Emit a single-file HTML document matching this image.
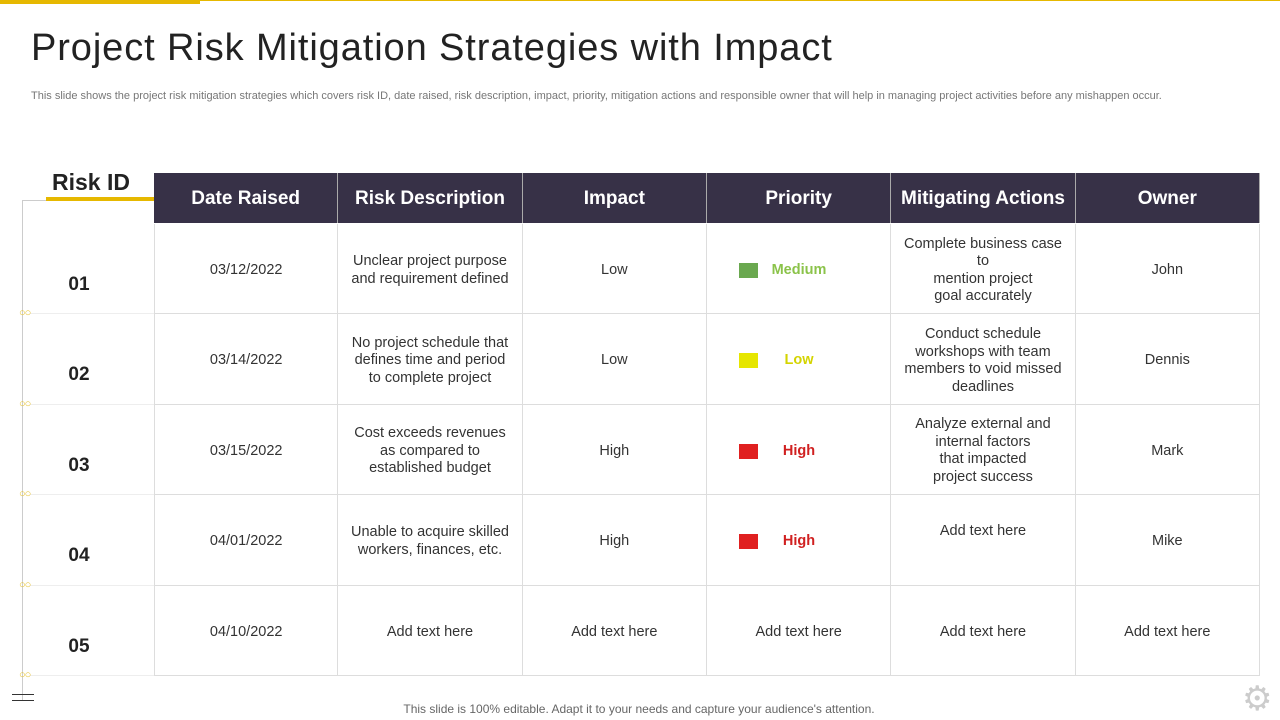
<!DOCTYPE html>
<html><head><meta charset="utf-8"><style>
body{margin:0;width:1280px;height:720px;position:relative;background:#fff;font-family:"Liberation Sans",sans-serif;overflow:hidden}
.a{position:absolute}
.hd{position:absolute;top:173px;height:50px;background:#373147;color:#fff;font-weight:bold;font-size:19px;display:flex;align-items:center;justify-content:center;border-right:1px solid #aaa;box-sizing:border-box;padding-top:2px}
.cell{position:absolute;height:90px;display:flex;align-items:center;justify-content:center;text-align:center;font-size:14.5px;color:#333;line-height:17.5px;border-right:1px solid #ddd;border-bottom:1px solid #ddd;box-sizing:border-box;padding-top:4px}
.rid{position:absolute;left:49px;width:60px;text-align:center;font-weight:bold;font-size:19px;color:#222}
.dots{position:absolute;left:19px;font-size:11px;color:#e6c230;letter-spacing:-1px;line-height:11px}
.sq{position:absolute;left:32px;top:39px;width:19px;height:15px}
.pr{position:absolute;left:57px;width:70px;top:38px;text-align:center;font-weight:bold}
</style></head><body>
<div class="a" style="left:0;top:0;width:200px;height:4px;background:#e6b800"></div>
<div class="a" style="left:200px;top:0;width:1080px;height:1px;background:#e6b800"></div>
<div class="a" style="left:31px;top:27px;font-size:38px;letter-spacing:0.9px;color:#222">Project Risk Mitigation Strategies with Impact</div>
<div class="a" style="left:31px;top:89px;width:1150px;font-size:11px;color:#777;line-height:14.5px">This slide shows the project risk mitigation strategies which covers risk ID, date raised, risk description, impact, priority, mitigation actions and responsible owner that will help in managing project activities before any mishappen occur.</div>
<div class="a" style="left:52px;top:169px;font-size:23px;font-weight:bold;color:#222">Risk ID</div>
<div class="a" style="left:46px;top:197px;width:108px;height:4px;background:#e6b800"></div>
<div class="a" style="left:22px;top:200px;width:1px;height:500px;background:#ccc"></div>
<div class="a" style="left:22px;top:200px;width:24px;height:1px;background:#ccc"></div>
<div class="a" style="left:12px;top:694px;width:22px;height:5px;border-top:1px solid #333;border-bottom:1px solid #333"></div>
<div id="tbl"></div>
<div class="a" style="left:0;width:1278px;top:702px;text-align:center;font-size:12px;color:#666">This slide is 100% editable. Adapt it to your needs and capture your audience's attention.</div>
<div class="a" style="left:1242px;top:682px;font-size:34px;color:#ccc;line-height:34px">⚙</div>
<script>
const heads=["Date Raised","Risk Description","Impact","Priority","Mitigating Actions","Owner"];
const ids=["01","02","03","04","05"];
const dates=["03/12/2022","03/14/2022","03/15/2022","04/01/2022","04/10/2022"];
const descs=["Unclear project purpose<br>and requirement defined","No project schedule that<br>defines time and period<br>to complete project","Cost exceeds revenues<br>as compared to<br>established budget","Unable to acquire skilled<br>workers, finances, etc.","Add text here"];
const impacts=["Low","Low","High","High","Add text here"];
const prios=["Medium","Low","High","High",""];
const actions=["Complete business case<br>to<br>mention project<br>goal accurately","Conduct schedule<br>workshops with team<br>members to void missed<br>deadlines","Analyze external and<br>internal factors<br>that impacted<br>project success","Add text here","Add text here"];
const owners=["John","Dennis","Mark","Mike","Add text here"];
const pcol={Medium:["#6aa84f","#8bc34a"],Low:["#e6e600","#d4d400"],High:["#e02020","#d02020"]};
const X0=154,CW=184.33,Y0=224,RH=90.4;
const T=document.getElementById('tbl');
heads.forEach((h,i)=>{const d=document.createElement('div');d.className='hd';


d.style.left=(X0+i*CW)+'px';d.style.width=CW+'px';d.textContent=h;T.appendChild(d);});
ids.forEach((id,r)=>{const y=Y0+r*RH;
const n=document.createElement('div');n.className='rid';


n.style.top=(y+50)+'px';n.textContent=id;T.appendChild(n);
const sep=document.createElement('div');sep.className='a';


sep.style.cssText=`left:30px;top:${y+RH-1}px;width:124px;height:1px;background:#eee`;T.appendChild(sep);
const dt=document.createElement('div');dt.className='dots';


dt.style.top=(y+RH-6)+'px';dt.textContent='○○';T.appendChild(dt);
let pv=prios[r];let ph=pv?`<span class="sq" style="background:${pcol[pv][0]}"></span><span class="pr" style="color:${pcol[pv][1]}">${pv}</span>`:'Add text here';
const vals=[dates[r],descs[r],impacts[r],ph,actions[r],owners[r]];
const nm=['date','description','impact','priority','actions','owner'];
vals.forEach((v,c)=>{const d=document.createElement('div');d.className='cell';


d.style.left=(X0+c*CW)+'px';d.style.top=y+'px';d.style.width=CW+'px';d.style.height=RH+'px';
if(c==0)d.style.borderLeft='1px solid #ddd';
if(c==4&&r==3){d.style.alignItems='flex-start';d.style.paddingTop='28px';}
d.innerHTML=v;T.appendChild(d);});
});
</script>
</body></html>
